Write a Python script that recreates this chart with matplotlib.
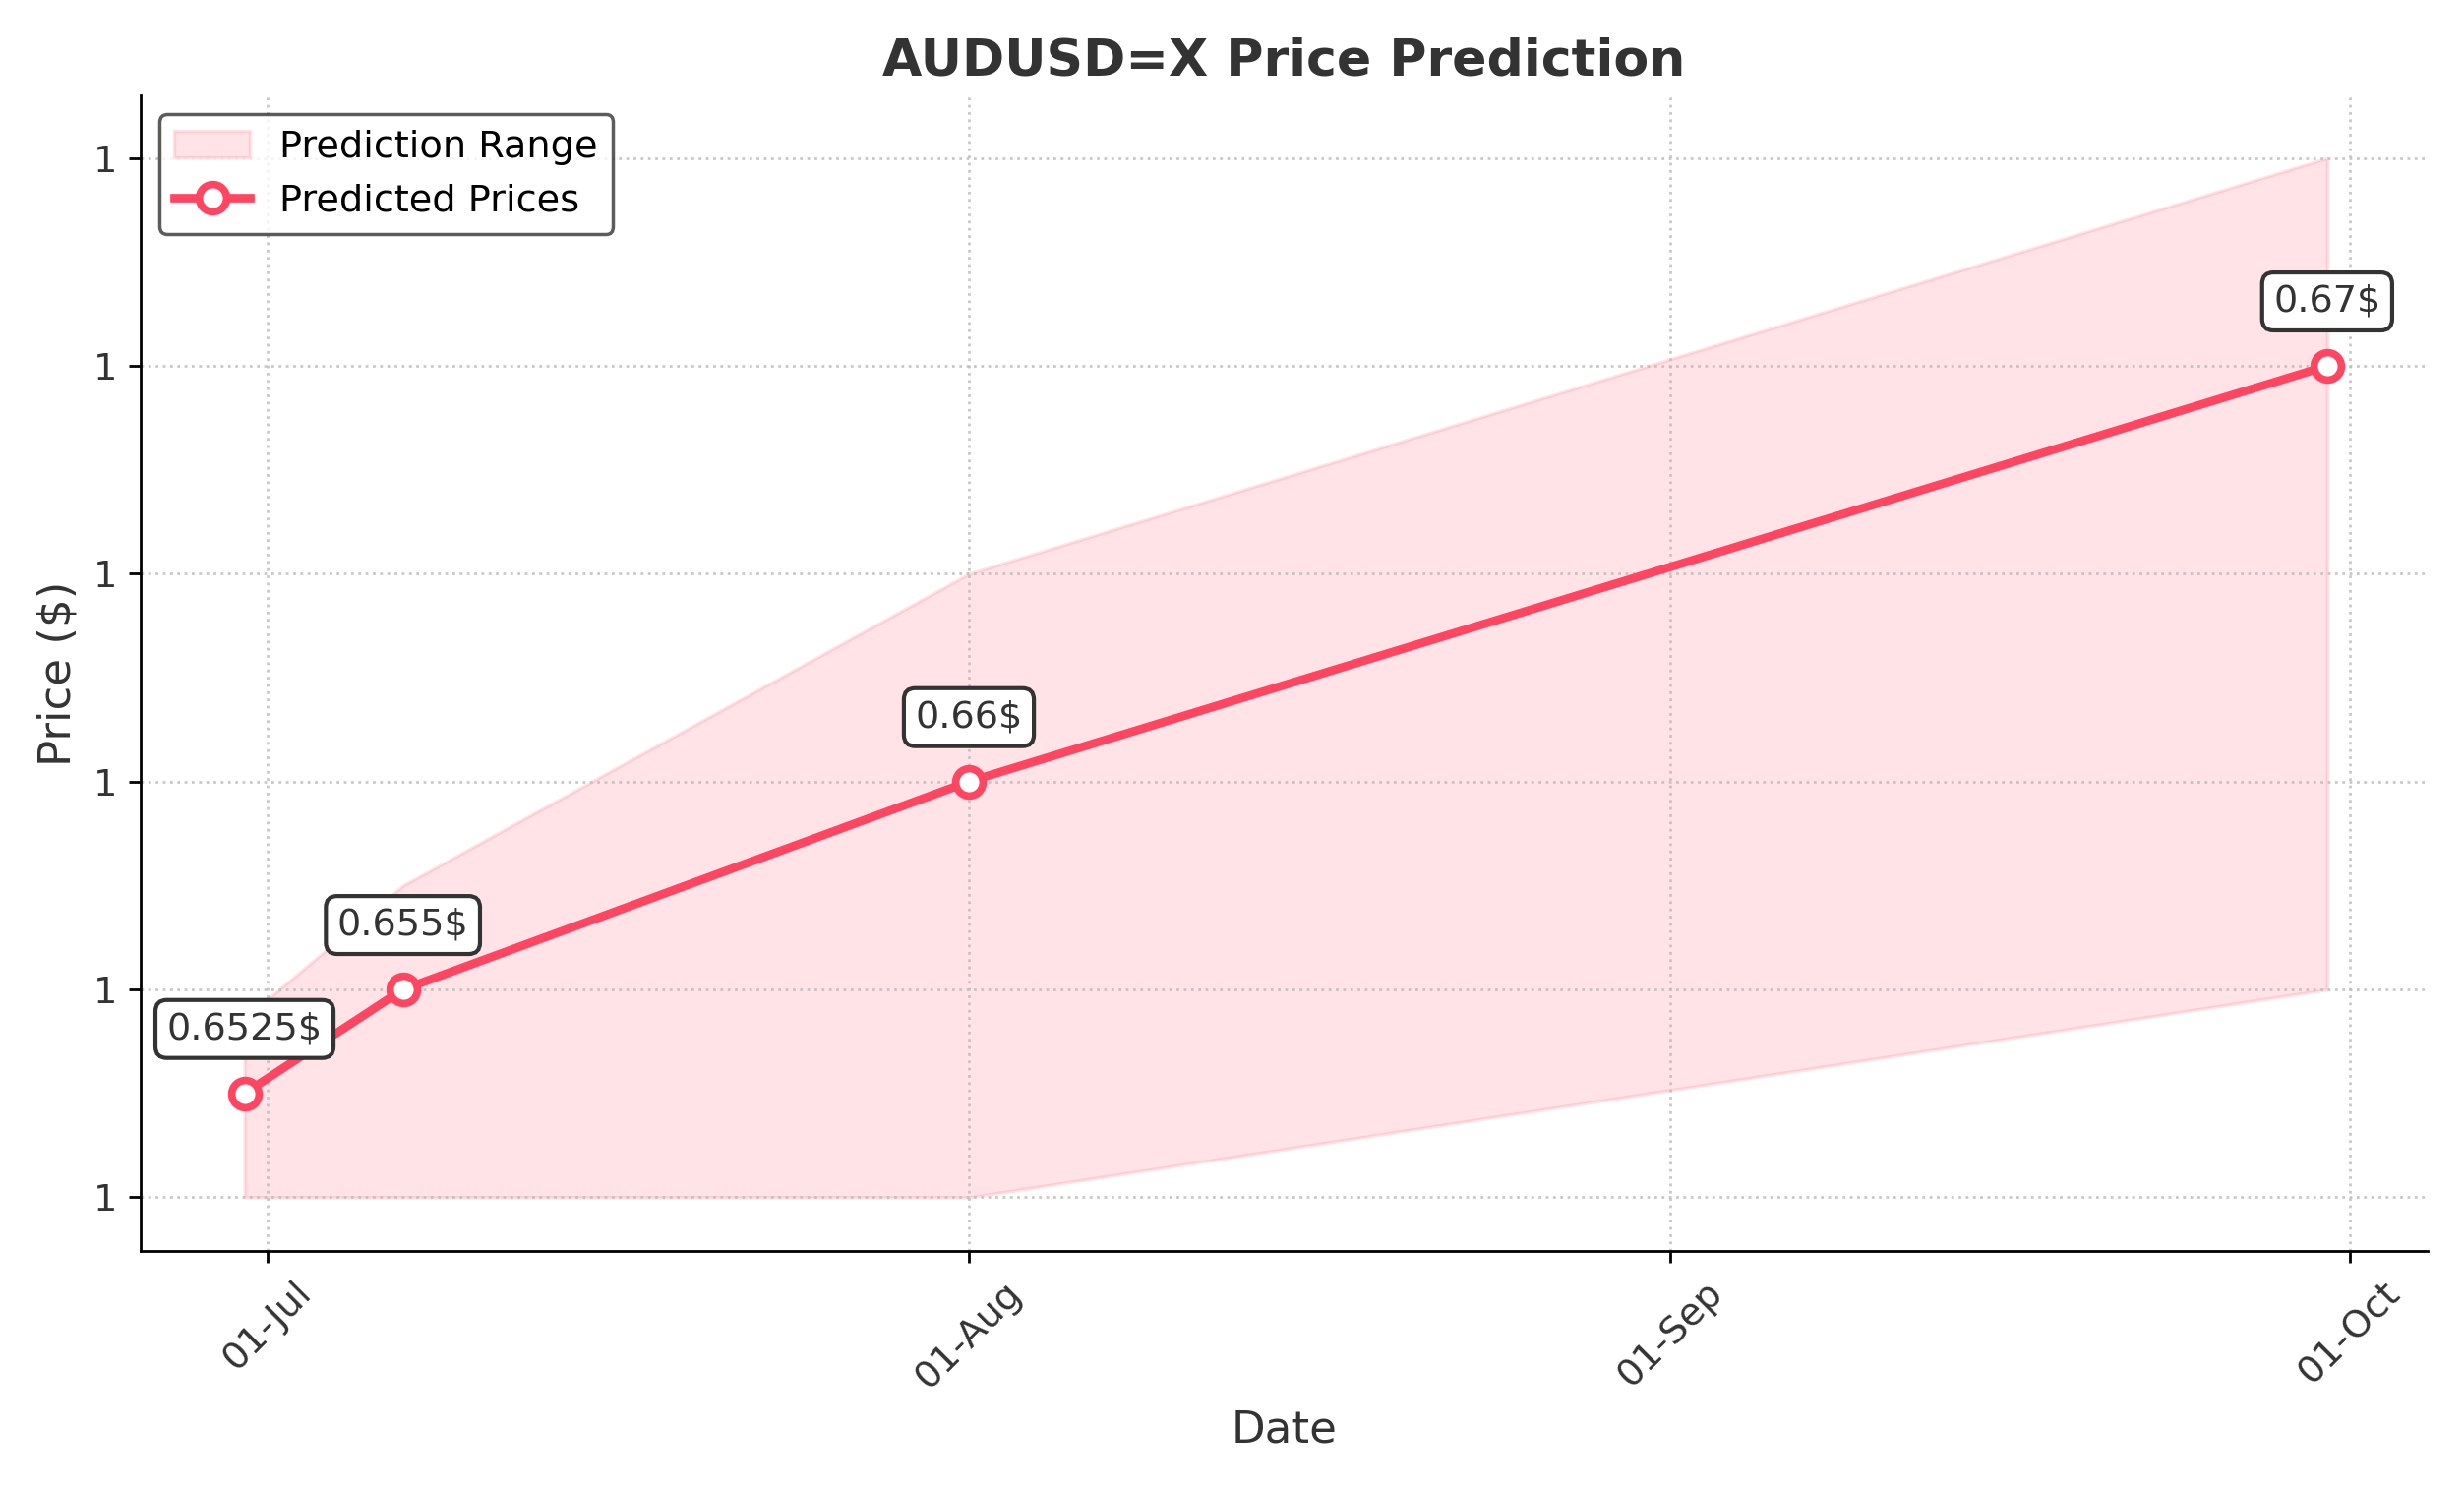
import matplotlib
matplotlib.use("Agg")
import matplotlib.pyplot as plt
import matplotlib.dates as mdates
from matplotlib.ticker import FormatStrFormatter
import numpy as np
import datetime as dt

dates = [dt.datetime(2024, 6, 30), dt.datetime(2024, 7, 7), dt.datetime(2024, 8, 1), dt.datetime(2024, 9, 30)]
prices = [0.6525, 0.655, 0.66, 0.67]
lower = [0.65, 0.65, 0.65, 0.655]
upper = [0.6543, 0.6575, 0.665, 0.675]
labels = ["0.6525$", "0.655$", "0.66$", "0.67$"]

color = "#ff4560"
fig, ax = plt.subplots(figsize=(10.02, 6.052), dpi=250)

ax.fill_between(dates, lower, upper, color=color, alpha=0.15, label="Prediction Range")
ax.plot(dates, prices, color=color, linewidth=2.5, marker="o", markersize=8,
        markerfacecolor="white", markeredgewidth=2.2, label="Predicted Prices")

for d, p, t in zip(dates, prices, labels):
    ax.annotate(t, (d, p), xytext=(0, 16), textcoords="offset points", ha="center",
                fontsize=11, color="#333333",
                bbox=dict(boxstyle="round,pad=0.3", fc="white", ec="#333333", lw=1.2))

ax.set_title("AUDUSD=X Price Prediction", fontsize=15, fontweight="bold", color="#333333")
ax.set_xlabel("Date", fontsize=13, color="#333333")
ax.set_ylabel("Price ($)", fontsize=13, color="#333333")
ax.xaxis.set_major_locator(mdates.MonthLocator())
ax.xaxis.set_major_formatter(mdates.DateFormatter("%d-%b"))
ax.yaxis.set_major_formatter(FormatStrFormatter("%.0f"))
ax.set_yticks(np.arange(0.65, 0.6751, 0.005))
ax.set_xlim(dt.datetime(2024, 6, 25, 10), dt.datetime(2024, 10, 4, 10))
ax.set_ylim(0.6487, 0.6765)
plt.setp(ax.get_xticklabels(), rotation=45, fontsize=11, color="#333333")
plt.setp(ax.get_yticklabels(), fontsize=11, color="#333333")
ax.grid(True, linestyle=":", color="#bbbbbb", alpha=0.8)
ax.spines["top"].set_visible(False)
ax.spines["right"].set_visible(False)
ax.legend(loc="upper left", fontsize=11, edgecolor="#333333", fancybox=True)
fig.tight_layout()
fig.savefig("out.png")
